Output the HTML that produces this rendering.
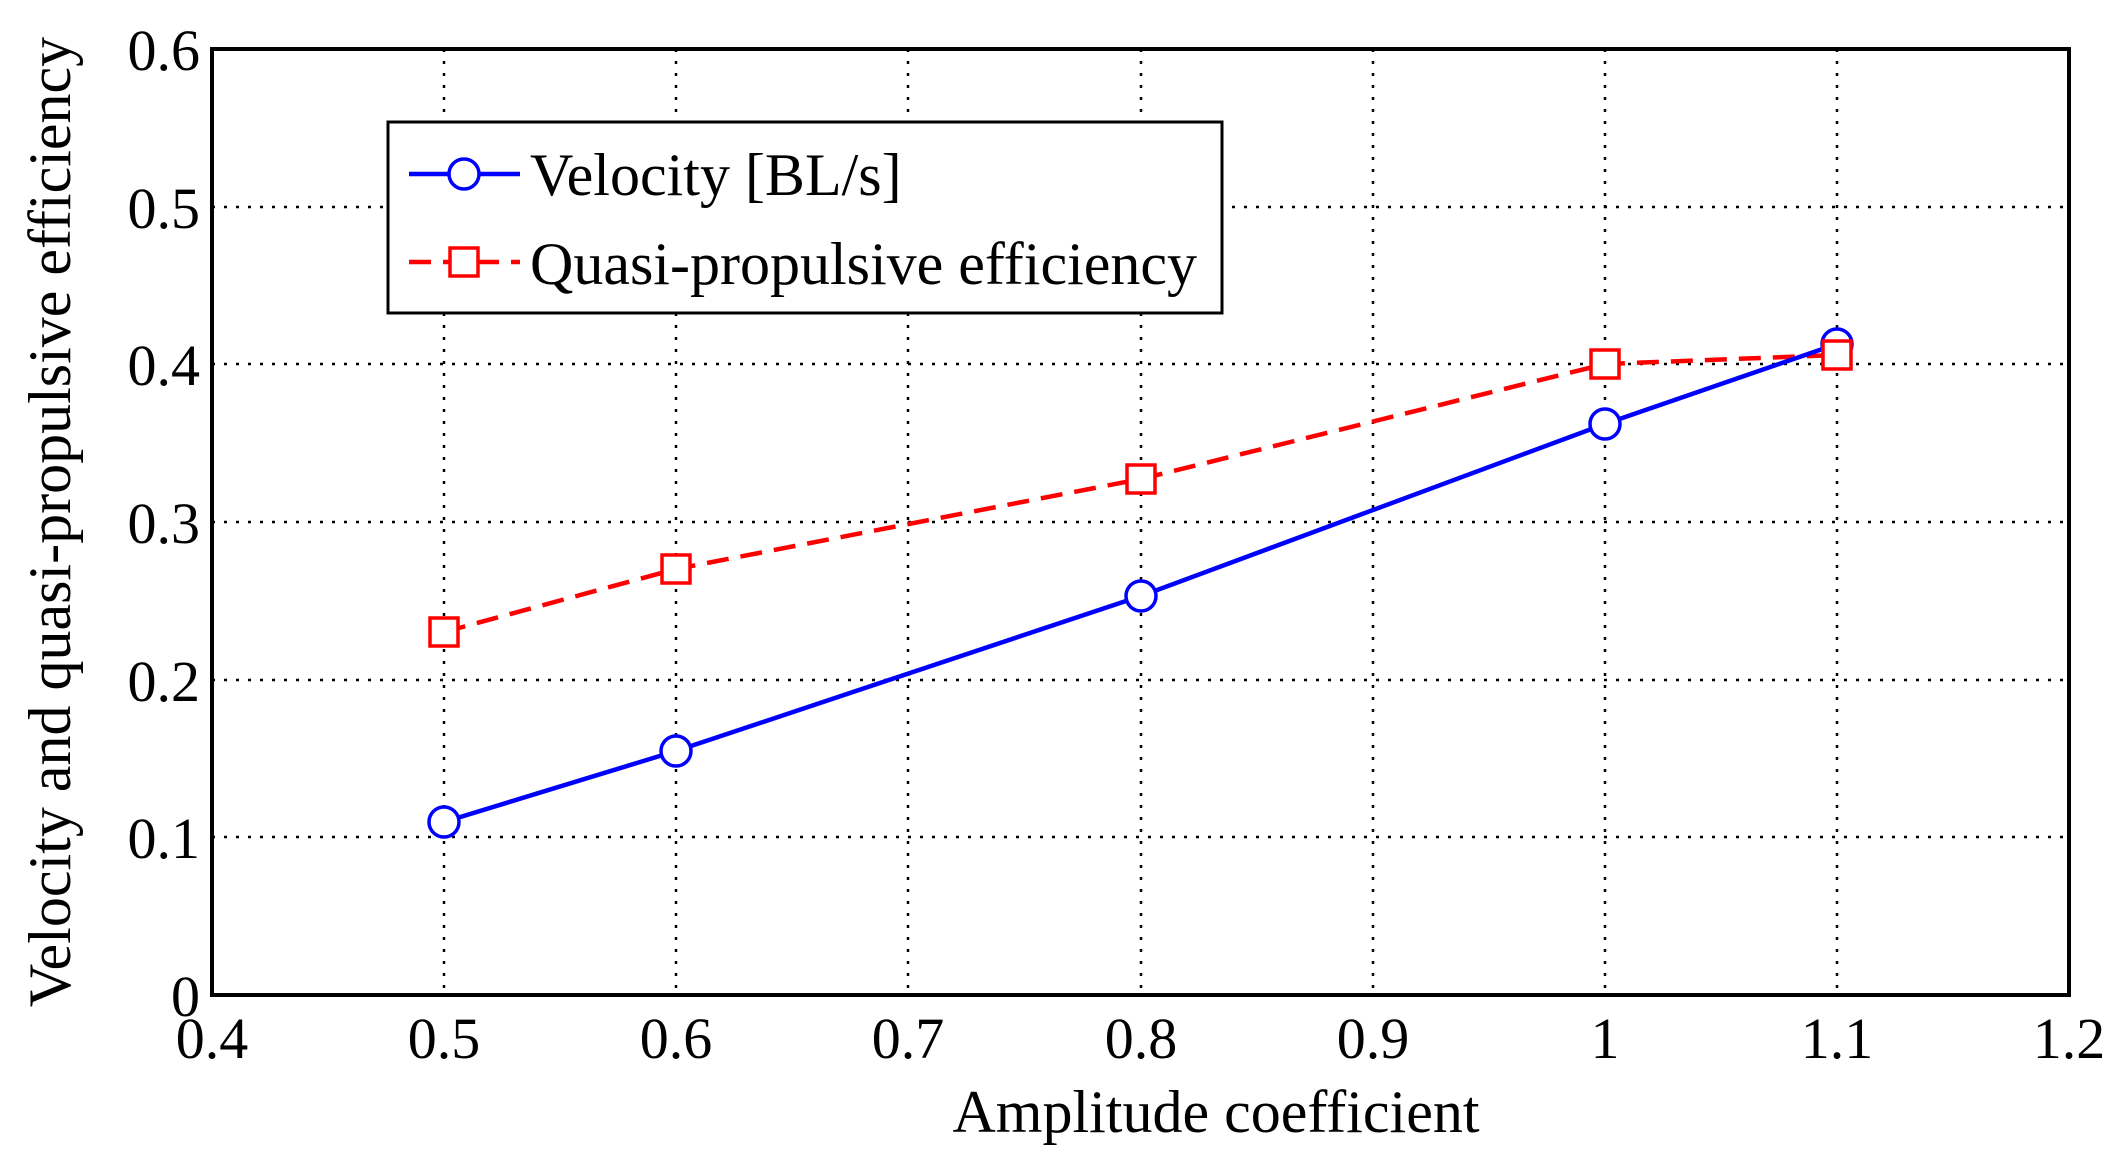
<!DOCTYPE html>
<html><head><meta charset="utf-8"><style>body{margin:0;background:#fff}</style></head><body>
<svg width="2117" height="1168" xmlns="http://www.w3.org/2000/svg" font-family="Liberation Serif, serif">
<rect width="2117" height="1168" fill="#fff"/>
<g stroke="#000" stroke-width="2.5" stroke-dasharray="3,9">
<line x1="444" y1="49" x2="444" y2="995"/><line x1="676" y1="49" x2="676" y2="995"/><line x1="908" y1="49" x2="908" y2="995"/><line x1="1141" y1="49" x2="1141" y2="995"/><line x1="1373" y1="49" x2="1373" y2="995"/><line x1="1605" y1="49" x2="1605" y2="995"/><line x1="1837" y1="49" x2="1837" y2="995"/>
<line x1="212" y1="207" x2="2069" y2="207"/><line x1="212" y1="364" x2="2069" y2="364"/><line x1="212" y1="522" x2="2069" y2="522"/><line x1="212" y1="680" x2="2069" y2="680"/><line x1="212" y1="837" x2="2069" y2="837"/>
</g>
<rect x="212" y="49" width="1857" height="946" fill="none" stroke="#000" stroke-width="4"/>
<g font-size="58" text-anchor="end">
<text x="200" y="70">0.6</text><text x="200" y="228">0.5</text><text x="200" y="385">0.4</text><text x="200" y="543">0.3</text><text x="200" y="701">0.2</text><text x="200" y="858">0.1</text><text x="200" y="1016">0</text>
</g>
<g font-size="58" text-anchor="middle">
<text x="212" y="1058">0.4</text><text x="444" y="1058">0.5</text><text x="676" y="1058">0.6</text><text x="908" y="1058">0.7</text><text x="1141" y="1058">0.8</text><text x="1373" y="1058">0.9</text><text x="1605" y="1058">1</text><text x="1837" y="1058">1.1</text><text x="2069" y="1058">1.2</text>
<text x="1216" y="1132" font-size="60">Amplitude coefficient</text>
<text transform="translate(70,522) rotate(-90)" font-size="60">Velocity and quasi-propulsive efficiency</text>
</g>
<polyline points="444,632 676,569 1141,479 1605,364 1837,355" fill="none" stroke="#f00" stroke-width="4.5" stroke-dasharray="22,12"/>
<polyline points="444,822 676,751 1141,596 1605,424 1837,344" fill="none" stroke="#00f" stroke-width="4.5"/>
<g fill="#fff" stroke="#00f" stroke-width="3.5">
<circle cx="444" cy="822" r="15"/><circle cx="676" cy="751" r="15"/><circle cx="1141" cy="596" r="15"/><circle cx="1605" cy="424" r="15"/><circle cx="1837" cy="344" r="15"/>
</g>
<g fill="#fff" stroke="#f00" stroke-width="3.5">
<rect x="430" y="618" width="28" height="28"/><rect x="662" y="555" width="28" height="28"/><rect x="1127" y="465" width="28" height="28"/><rect x="1591" y="350" width="28" height="28"/><rect x="1823" y="341" width="28" height="28"/>
</g>
<rect x="388" y="122" width="834" height="191" fill="#fff" stroke="#000" stroke-width="3"/>
<line x1="409" y1="174" x2="520" y2="174" stroke="#00f" stroke-width="4.5"/>
<circle cx="464" cy="174" r="15" fill="#fff" stroke="#00f" stroke-width="3.5"/>
<line x1="409" y1="262" x2="520" y2="262" stroke="#f00" stroke-width="4.5" stroke-dasharray="22,12"/>
<rect x="450" y="248" width="28" height="28" fill="#fff" stroke="#f00" stroke-width="3.5"/>
<g font-size="60"><text x="530" y="195">Velocity [BL/s]</text><text x="530" y="284">Quasi-propulsive efficiency</text></g>
</svg>
</body></html>
